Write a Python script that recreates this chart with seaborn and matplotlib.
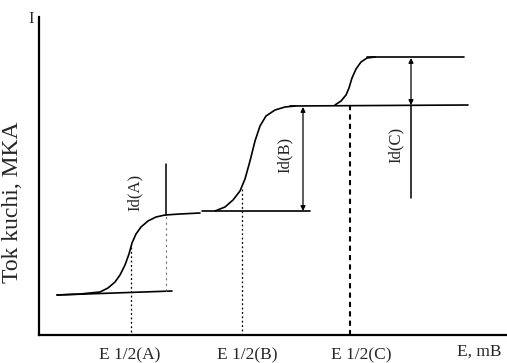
import matplotlib
matplotlib.use("Agg")
import matplotlib.pyplot as plt
import numpy as np
import pandas as pd
import seaborn as sns

# Polarographic waves of three depolarizers A, B, C (schematic units)
wave_a_e = [18, 41, 61, 69, 76, 81, 86, 90, 93, 97, 102, 109, 117, 126, 141, 161]
wave_a_i = [40, 41, 43, 47, 53, 60, 70, 81, 92, 101, 108, 114, 118, 120, 121, 122]

wave_b_e = [176, 186, 194, 201, 206, 211, 216, 221, 227, 236, 246, 256]
wave_b_i = [124, 128, 135, 144, 156, 174, 194, 209, 219, 225, 228, 229]

wave_c_e = [296, 302, 307, 310, 313, 317, 322, 328, 336]
wave_c_i = [230, 234, 240, 247, 257, 266, 273, 277, 278]

# half-wave potentials and limiting-current levels
half_wave_e = [92, 203, 311]
half_wave_i = [88, 146, 230]
base_a = (18, 133, 40, 44)        # e0, e1, i0, i1
base_b = (163, 271, 124, 124)
plateau_b = (251, 429, 229, 230)
plateau_c = (328, 425, 278, 278)

tick_pos = [91, 208, 322]
tick_labels = ["E 1/2(A)", "E 1/2(B)", "E 1/2(C)"]
id_labels = ["Id(A)", "Id(B)", "Id(C)"]

sns.set_theme(style="white")
plt.rcParams["font.family"] = ["Liberation Serif", "DejaVu Serif"]

W, H = 507, 363
fig = plt.figure(figsize=(W / 100, H / 100), dpi=100)
ax = fig.add_axes([39 / W, 28 / H, 468 / W, 318 / H])

waves = pd.concat([
    pd.DataFrame({"E": wave_a_e, "I": wave_a_i, "wave": "A"}),
    pd.DataFrame({"E": wave_b_e, "I": wave_b_i, "wave": "B"}),
    pd.DataFrame({"E": wave_c_e, "I": wave_c_i, "wave": "C"}),
], ignore_index=True)

sns.lineplot(data=waves, x="E", y="I", units="wave", estimator=None,
             sort=False, color="black", lw=1.2, ax=ax)

# tangent lines (residual current and limiting currents)
for e0, e1, i0, i1 in (base_a, base_b, plateau_b, plateau_c):
    ax.plot([e0, e1], [i0, i1], color="black", lw=1.2)

# Id(A): vertical marker with faint lower part
ax.plot([127, 127], [120, 171], color="black", lw=1.1)
ax.plot([127, 127], [44, 120], color="0.45", lw=0.8, ls=(0, (2, 3)))

arrow = dict(arrowstyle="<|-|>", color="black", lw=0.9, mutation_scale=7,
             shrinkA=0, shrinkB=0)
# Id(B)
ax.annotate("", xy=(264, 228), xytext=(264, 124), arrowprops=arrow)
# Id(C)
ax.annotate("", xy=(372, 277), xytext=(372, 230), arrowprops=arrow)
ax.plot([372, 372], [230, 137], color="black", lw=1.1)

# half-wave potential drop lines
ax.plot([half_wave_e[0]] * 2, [half_wave_i[0], 0], color="black", lw=0.9,
        ls=(0, (1.5, 2)))
ax.plot([half_wave_e[1]] * 2, [half_wave_i[1], 0], color="black", lw=0.9,
        ls=(0, (1.5, 2)))
ax.plot([half_wave_e[2]] * 2, [half_wave_i[2], 0], color="black", lw=1.5,
        ls=(0, (2.5, 2)))

ax.text(96, 143, id_labels[0], rotation=90, ha="center", va="center",
        fontsize=12)
ax.text(246, 180, id_labels[1], rotation=90, ha="center", va="center",
        fontsize=12)
ax.text(357, 190, id_labels[2], rotation=90, ha="center", va="center",
        fontsize=12)

ax.set_xlim(0, 468)
ax.set_ylim(0, 318)
ax.set_xticks(tick_pos)
ax.set_xticklabels(tick_labels, fontsize=12.5)
ax.set_yticks([])
ax.tick_params(axis="x", length=0, pad=9)
ax.set_xlabel("")
ax.set_ylabel("Tok kuchi, MKA", fontsize=17)
ax.yaxis.set_label_coords(-16 / 468, 133 / 318)

ax.text(440, -17, "E, mB", ha="center", va="center", fontsize=12.5,
        clip_on=False)
ax.text(-8, 316, "I", ha="center", va="center", fontsize=12, clip_on=False)

for side in ("top", "right"):
    ax.spines[side].set_visible(False)
for side in ("left", "bottom"):
    ax.spines[side].set_color("black")
    ax.spines[side].set_linewidth(1.6)

fig.savefig("out.png", dpi=100)
